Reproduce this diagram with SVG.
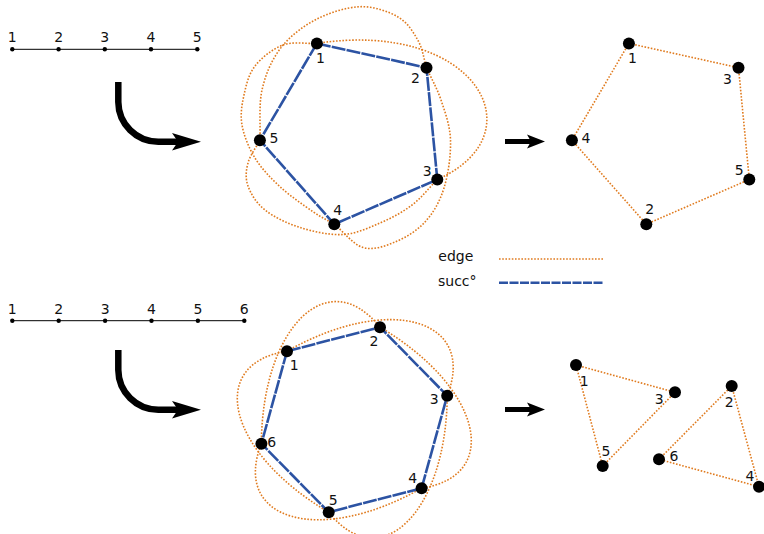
<svg xmlns="http://www.w3.org/2000/svg" xmlns:xlink="http://www.w3.org/1999/xlink" width="764" height="534" viewBox="0 0 764 534">
<style>
.edge{fill:none;stroke:#e07b1f;stroke-width:1.6;stroke-dasharray:1.6 1.6}
.succ{fill:none;stroke:#2c53a3;stroke-width:2.6;stroke-dasharray:9 1.5}
.succf{fill:none;stroke:#2c53a3;stroke-width:2.6;stroke-dasharray:14 1.2}
.nd{fill:#000}
.pd{fill:#000}
.lbl{font-family:"DejaVu Sans",sans-serif;font-size:14px;fill:#111;text-anchor:middle}
.leg{font-family:"DejaVu Sans",sans-serif;font-size:14px;fill:#111}
.pl{stroke:#000;stroke-width:1}
.big{fill:none;stroke:#000;stroke-width:6.5}
.sm{fill:none;stroke:#000;stroke-width:5}
</style>
<defs>
<path id="hexarc" d="M287,351.2 C389.7,293.1 477.3,319.4 447.2,395.7"/>
<g id="bigarrow"><path class="big" d="M118.3,82 V102 A40,40 0 0 0 158.3,141.7 H178"/><polygon points="172,133 201,141.7 172,150.5 178,141.7"/></g>
<g id="smarrow"><path class="sm" d="M505,141.5 H532"/><polygon points="527,134.5 545,141.5 527,148.5 531,141.5"/></g>
</defs>

<g id="path5">
<line class="pl" x1="12.3" y1="49.3" x2="197.3" y2="49.3"/>
<circle class="pd" cx="12.3" cy="49.3" r="2.2"/><circle class="pd" cx="58.6" cy="49.3" r="2.2"/><circle class="pd" cx="104.8" cy="49.3" r="2.2"/><circle class="pd" cx="151" cy="49.3" r="2.2"/><circle class="pd" cx="197.3" cy="49.3" r="2.2"/>
<text class="lbl" x="12.3" y="42">1</text><text class="lbl" x="58.6" y="42">2</text><text class="lbl" x="104.8" y="42">3</text><text class="lbl" x="151" y="42">4</text><text class="lbl" x="197.3" y="42">5</text>
</g>
<g id="path6">
<line class="pl" x1="12.3" y1="320.7" x2="244.3" y2="320.7"/>
<circle class="pd" cx="12.3" cy="320.7" r="2.2"/><circle class="pd" cx="58.7" cy="320.7" r="2.2"/><circle class="pd" cx="105.1" cy="320.7" r="2.2"/><circle class="pd" cx="151.5" cy="320.7" r="2.2"/><circle class="pd" cx="197.9" cy="320.7" r="2.2"/><circle class="pd" cx="244.3" cy="320.7" r="2.2"/>
<text class="lbl" x="12.3" y="313.5">1</text><text class="lbl" x="58.7" y="313.5">2</text><text class="lbl" x="105.1" y="313.5">3</text><text class="lbl" x="151.5" y="313.5">4</text><text class="lbl" x="197.9" y="313.5">5</text><text class="lbl" x="244.3" y="313.5">6</text>
</g>

<g id="arrows">
<use xlink:href="#bigarrow"/>
<use xlink:href="#bigarrow" transform="translate(0,268)"/>
<use xlink:href="#smarrow"/>
<use xlink:href="#smarrow" transform="translate(0,268)"/>
</g>

<g id="connectors">
<path class="edge" d="M259.9,140.2 C260.6,123.5 258.7,105.2 262,90 C265.4,74.8 271.2,60.7 280,49 C288.8,37.3 301.7,27 315,20 C328.3,13 346.2,7.2 360,6.7 C373.8,6.2 388.3,11.4 398,17 C407.7,22.6 413.3,32 418,40.5 C422.8,49 423.7,58.6 426.5,67.7"/>
<path class="edge" d="M316.9,43.4 C475,19 540,134 437.3,179.5"/>
<path class="edge" d="M426.5,67.7 C431.3,78.5 437,88 441,100 C445,112 450,125.3 450.5,140 C451,154.7 448.3,174.3 444,188 C439.8,201.7 433.2,213 425,222 C416.8,231 405.3,237.8 395,242 C384.7,246.3 373.1,250.5 363,247.5 C352.9,244.5 343.9,232 334.3,224.2"/>
<path class="edge" d="M437.3,179.5 C428.9,188 421.6,197.8 412,205 C402.5,212.3 391.5,218.1 380,223 C368.5,227.9 356.3,233.8 343,234.5 C329.7,235.3 313,231.6 300,227.5 C287,223.4 273.7,216.9 265,210 C256.3,203.1 250.8,193.8 248,186 C245.2,178.2 246,170.6 248,163 C250,155.4 255.9,147.8 259.9,140.2"/>
<path class="edge" d="M334.3,224.2 C327.2,220 322.1,218 313,211.7 C304,205.5 289.7,195.7 280,186.7 C270.3,177.8 261.3,168.3 255,158 C248.7,147.7 243.8,135.5 242,125 C240.2,114.5 241.8,104.8 244,95 C246.2,85.2 248.5,74.3 255,66 C261.5,57.7 272.7,48.8 283,45 C293.3,41.2 305.6,43.9 316.9,43.4"/>
<polygon class="succf" points="316.9,43.4 426.5,67.7 437.3,179.5 334.3,224.2 259.9,140.2"/>
<polygon class="edge" points="628.9,43.4 738.5,67.7 749.3,179.5 646.3,224.2 571.9,140.2"/>

<use class="edge" xlink:href="#hexarc"/>
<use class="edge" xlink:href="#hexarc" transform="rotate(60 354.3 419.7)"/>
<use class="edge" xlink:href="#hexarc" transform="rotate(120 354.3 419.7)"/>
<use class="edge" xlink:href="#hexarc" transform="rotate(180 354.3 419.7)"/>
<use class="edge" xlink:href="#hexarc" transform="rotate(240 354.3 419.7)"/>
<use class="edge" xlink:href="#hexarc" transform="rotate(300 354.3 419.7)"/>
<polygon class="succf" points="287,351.2 380,327.2 447.2,395.7 421.6,488.2 328.7,512.2 261.4,443.7"/>
<polygon class="edge" points="576,365 675,392.3 602.7,466"/>
<polygon class="edge" points="731.7,386 759,486.7 659,459.3"/>
</g>

<g id="legend">
<text class="leg" x="438.3" y="260.5">edge</text>
<line class="edge" x1="499" y1="259" x2="603" y2="259"/>
<text class="leg" x="438" y="285.5">succ°</text>
<line class="succ" x1="499" y1="282.7" x2="604" y2="282.7"/>
</g>

<g id="m1"><circle class="nd" cx="316.9" cy="43.4" r="6"/><text class="lbl" x="320.4" y="63.4">1</text></g>
<g id="m2"><circle class="nd" cx="426.5" cy="67.7" r="6"/><text class="lbl" x="415.5" y="82.7">2</text></g>
<g id="m3"><circle class="nd" cx="437.3" cy="179.5" r="6"/><text class="lbl" x="427.3" y="175.5">3</text></g>
<g id="m4"><circle class="nd" cx="334.3" cy="224.2" r="6"/><text class="lbl" x="337.8" y="214.7">4</text></g>
<g id="m5"><circle class="nd" cx="259.9" cy="140.2" r="6"/><text class="lbl" x="273.9" y="143.2">5</text></g>

<g id="r1"><circle class="nd" cx="628.9" cy="43.4" r="6"/><text class="lbl" x="632.4" y="63.4">1</text></g>
<g id="r3"><circle class="nd" cx="738.5" cy="67.7" r="6"/><text class="lbl" x="727.5" y="84">3</text></g>
<g id="r5"><circle class="nd" cx="749.3" cy="179.5" r="6"/><text class="lbl" x="739.3" y="175.3">5</text></g>
<g id="r2"><circle class="nd" cx="646.3" cy="224.2" r="6"/><text class="lbl" x="649.8" y="213.7">2</text></g>
<g id="r4"><circle class="nd" cx="571.9" cy="140.2" r="6"/><text class="lbl" x="585.9" y="143.3">4</text></g>

<g id="h1"><circle class="nd" cx="287" cy="351.2" r="6"/><text class="lbl" x="294.3" y="370.2">1</text></g>
<g id="h2"><circle class="nd" cx="380" cy="327.2" r="6"/><text class="lbl" x="374" y="345.8">2</text></g>
<g id="h3"><circle class="nd" cx="447.2" cy="395.7" r="6"/><text class="lbl" x="434.2" y="404.4">3</text></g>
<g id="h4"><circle class="nd" cx="421.6" cy="488.2" r="6"/><text class="lbl" x="412.6" y="483.3">4</text></g>
<g id="h5"><circle class="nd" cx="328.7" cy="512.2" r="6"/><text class="lbl" x="333.3" y="505.2">5</text></g>
<g id="h6"><circle class="nd" cx="261.4" cy="443.7" r="6"/><text class="lbl" x="271.7" y="446.8">6</text></g>

<g id="t1"><circle class="nd" cx="576" cy="365" r="6"/><text class="lbl" x="584.3" y="385.8">1</text></g>
<g id="t3"><circle class="nd" cx="675" cy="392.3" r="6"/><text class="lbl" x="659.3" y="404.4">3</text></g>
<g id="t5"><circle class="nd" cx="602.7" cy="466" r="6"/><text class="lbl" x="606" y="455.8">5</text></g>
<g id="t2"><circle class="nd" cx="731.7" cy="386" r="6"/><text class="lbl" x="729.3" y="407.4">2</text></g>
<g id="t6"><circle class="nd" cx="659" cy="459.3" r="6"/><text class="lbl" x="674" y="461.1">6</text></g>
<g id="t4"><circle class="nd" cx="759" cy="486.7" r="6"/><text class="lbl" x="750" y="481.1">4</text></g>
</svg>
